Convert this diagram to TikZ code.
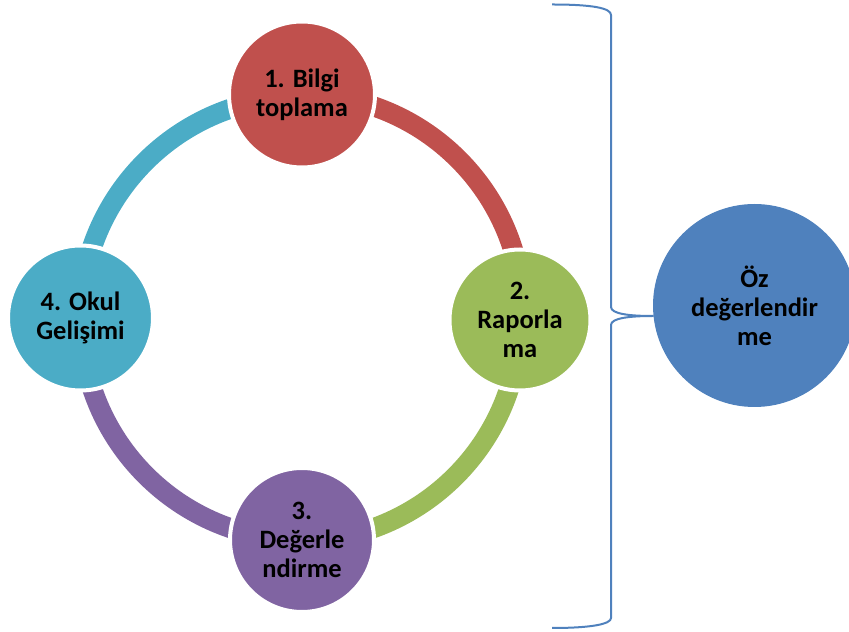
\documentclass[tikz,border=0pt]{standalone}
\usepackage{fontspec}
\setmainfont{Carlito}
\usetikzlibrary{backgrounds}
\definecolor{cred}{HTML}{C0504D}
\definecolor{cgreen}{HTML}{9BBB59}
\definecolor{cpurple}{HTML}{8064A2}
\definecolor{cteal}{HTML}{4BACC6}
\definecolor{cblue}{HTML}{4F81BD}
\begin{document}
\begin{tikzpicture}[x=1pt,y=1pt,
  stage/.style={circle, fill=#1, draw=white, line width=4pt, inner sep=0pt,
    align=center, text=black, font=\fontsize{26.5}{29}\selectfont\bfseries},
  ringarc/.style={draw=#1, line width=20pt},
  bracestyle/.style={draw=cblue, line width=2pt, line join=round}]
\useasboundingbox (0,0) rectangle (849,632);
\clip (0,0) rectangle (849,632);
% stage circles
\node[stage=cred,    minimum size=146pt] (s1) at (302,537.5) {1. Bilgi\\toplama};
\node[stage=cgreen,  minimum size=141pt] (s2) at (520,312)   {2.\\Raporla\\ma};
\node[stage=cpurple, minimum size=144pt] (s3) at (302,92)    {3.\\Değerle\\ndirme};
\node[stage=cteal,   minimum size=145pt] (s4) at (80.5,314)  {4. Okul\\Gelişimi};
% ring arcs
\begin{scope}[on background layer]
  \draw[ringarc=cred]    (s1.center) arc[start angle=90,  end angle=0,    radius=221];
  \draw[ringarc=cgreen]  (s2.center) arc[start angle=0,   end angle=-90,  radius=221];
  \draw[ringarc=cpurple] (s3.center) arc[start angle=-90, end angle=-180, radius=221];
  \draw[ringarc=cteal]   (s4.center) arc[start angle=180, end angle=90,   radius=221];
\end{scope}
% self-evaluation circle
\node[circle, fill=cblue, minimum size=203pt, inner sep=0pt, align=center, text=black,
  font=\fontsize{26.5}{29}\selectfont\bfseries] (oz) at (754.5,326.5) {Öz\\değerlendir\\me};
% brace
\coordinate (btop) at (552,627.5);
\coordinate (bbot) at (552,4);
\coordinate (tip) at (653,316);
\draw[bracestyle] (btop) .. controls (592,627.5) and (611,624) .. (611,617)
  -- (611,325) .. controls (611,318) and (630,316) .. (tip)
  .. controls (630,316) and (611,314) .. (611,307)
  -- (611,14) .. controls (611,8) and (592,4) .. (bbot);
\end{tikzpicture}
\end{document}
